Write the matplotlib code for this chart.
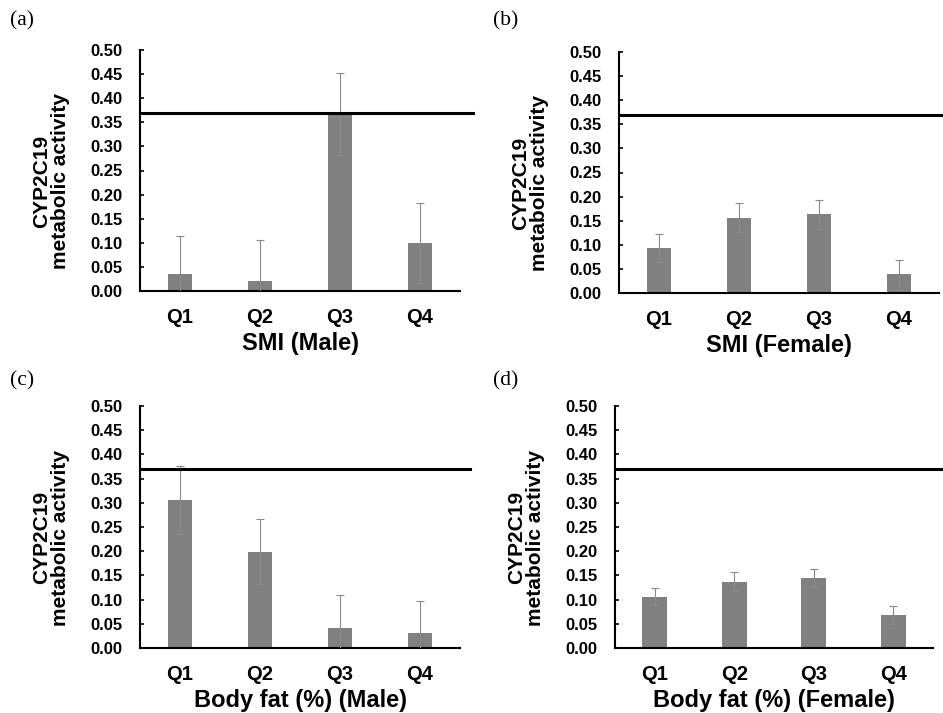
import numpy as np
import matplotlib.pyplot as plt

plt.rcParams['font.family'] = ['Liberation Sans', 'DejaVu Sans']

kategorie = ['Q1', 'Q2', 'Q3', 'Q4']

smi_m = [0.035, 0.021, 0.367, 0.099]
smi_m_err = [0.080, 0.085, 0.085, 0.083]
smi_f = [0.093, 0.156, 0.163, 0.039]
smi_f_err = [0.029, 0.030, 0.030, 0.030]
fat_m = [0.306, 0.199, 0.042, 0.031]
fat_m_err = [0.070, 0.067, 0.068, 0.066]
fat_f = [0.106, 0.137, 0.145, 0.068]
fat_f_err = [0.018, 0.020, 0.018, 0.019]

linia_ref = 0.37
yticks = [0.00, 0.05, 0.10, 0.15, 0.20, 0.25, 0.30, 0.35, 0.40, 0.45, 0.50]

W, H = 943, 713
fig = plt.figure(figsize=(W / 100, H / 100), dpi=100)

# (litera, dane, bledy, opis osi x, [lewo, prawo, gora, dol] w px, koniec linii ref w px)
panele = [
    ('(a)', smi_m, smi_m_err, 'SMI (Male)', [140, 460, 50, 291], 473, (10, 21)),
    ('(b)', smi_f, smi_f_err, 'SMI (Female)', [619, 939, 52, 293], 943, (493, 21)),
    ('(c)', fat_m, fat_m_err, 'Body fat (%) (Male)', [140, 460, 406, 648], 470, (10, 381)),
    ('(d)', fat_f, fat_f_err, 'Body fat (%) (Female)', [615, 933, 406, 648], 943, (493, 381)),
]

for litera, dane, bledy, xlab, (l, r, t, b), koniec, (lx, ly) in panele:
    ax = fig.add_axes([l / W, 1 - b / H, (r - l) / W, (b - t) / H])
    x = np.arange(len(kategorie))
    ax.bar(x, dane, width=0.31, color='#808080', zorder=2)
    ax.errorbar(x, dane, yerr=bledy, fmt='none', ecolor='#8a8a8a',
                elinewidth=0.8, capsize=3, capthick=0.8, zorder=3)
    ax.set_xlim(-0.5, 3.5)
    ax.set_ylim(0, 0.5)
    # linia referencyjna wychodzi poza os x
    x_end = -0.5 + (koniec - l) / (r - l) * 4
    ax.plot([-0.5, x_end], [linia_ref, linia_ref], color='black', lw=2.2,
            clip_on=False, zorder=4)
    ax.set_xticks(x)
    ax.set_xticklabels(kategorie, fontsize=14.5, fontweight='bold')
    ax.set_yticks(yticks)
    ax.set_yticklabels(['%.2f' % v for v in yticks], fontsize=12, fontweight='bold')
    ax.tick_params(axis='y', direction='in', length=3, width=1.2, pad=12.5)
    ax.tick_params(axis='x', length=0, pad=12)
    for s in ['top', 'right']:
        ax.spines[s].set_visible(False)
    ax.spines['left'].set_linewidth(1.5)
    ax.spines['bottom'].set_linewidth(1.5)
    ax.set_xlabel(xlab, fontsize=17, fontweight='bold', labelpad=3.5)
    ax.set_ylabel('CYP2C19\nmetabolic activity', fontsize=15, fontweight='bold',
                  linespacing=1.0)
    ax.yaxis.set_label_coords(-70 / (r - l), 0.455)
    fig.text(lx / W, 1 - ly / H, litera, fontsize=15.5, family='Liberation Serif',
             va='center', ha='left')

fig.savefig('out.png', dpi=100)
